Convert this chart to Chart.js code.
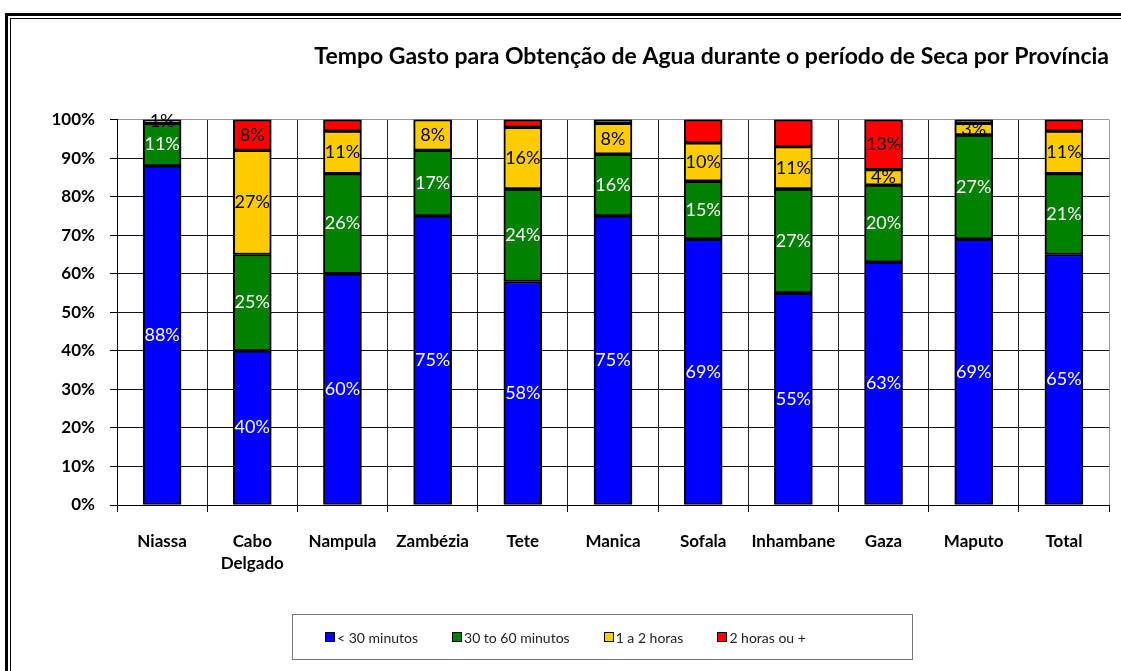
<!DOCTYPE html>
<html lang="pt">
<head>
    <meta charset="UTF-8">
    <title>Tempo Gasto para Obtenção de Agua</title>
    <style>
        body {
            margin: 0;
            background: #fff;
            font-family: Lato, "Noto Sans", sans-serif;
        }

        #wrap {
            position: relative;
            width: 1121px;
            height: 671px;
            overflow: hidden;
        }

        #frameOuter {
            position: absolute;
            left: 5px;
            top: 13px;
            width: 1200px;
            height: 800px;
            border-left: 3px solid #000;
            border-top: 3px solid #000;
        }

        #frameInner {
            position: absolute;
            left: 10px;
            top: 18px;
            width: 1200px;
            height: 800px;
            border-left: 1px solid #000;
            border-top: 1px solid #000;
        }

        canvas {
            position: absolute;
            left: 0;
            top: 0;
        }

        #legend {
            position: absolute;
            left: 292px;
            top: 614px;
            width: 621px;
            height: 46px;
            box-sizing: border-box;
            border: 1px solid #777;
            display: flex;
            align-items: center;
            padding-left: 32px;
            gap: 34px;
            font-size: 14px;
            color: #222;
        }

        .item {
            display: flex;
            align-items: center;
        }

        .box {
            width: 8px;
            height: 8px;
            border: 1px solid #000;
            margin-right: 2px;
        }
    </style>
</head>
<body>
<div id="wrap">
    <div id="frameOuter"></div>
    <div id="frameInner"></div>
    <canvas id="chartCanvas" width="1121" height="671"></canvas>
    <div id="legend"></div>
</div>
<script src="https://cdn.jsdelivr.net/npm/chart.js"></script>
<script>
    const provincias = ["Niassa", ["Cabo", "Delgado"], "Nampula", "Zambézia", "Tete", "Manica",
        "Sofala", "Inhambane", "Gaza", "Maputo", "Total"];
    const series = ["< 30 minutos", "30 to 60 minutos", "1 a 2 horas", "2 horas ou +"];
    const menos30 = [88, 40, 60, 75, 58, 75, 69, 55, 63, 69, 65];
    const de30a60 = [11, 25, 26, 17, 24, 16, 15, 27, 20, 27, 21];
    const de1a2 = [1, 27, 11, 8, 16, 8, 10, 11, 4, 3, 11];
    const mais2 = [0, 8, 3, 0, 2, 1, 6, 7, 13, 1, 3];
    const yTicks = [0, 10, 20, 30, 40, 50, 60, 70, 80, 90, 100];

    const cores = ["#0000ff", "#008000", "#ffcc00", "#ff0000"];
    const corTexto = ["#fff", "#fff", "#000", "#000"];
    // small red slices carry no label in the original
    const minRotulo = [1, 1, 1, 8];

    // legend
    const legendDiv = document.getElementById("legend");
    series.forEach((nome, i) => {
        const item = document.createElement("div");
        item.className = "item";
        item.innerHTML = `<span class="box" style="background:${cores[i]}"></span><span>${nome}</span>`;
        legendDiv.appendChild(item);
    });

    const rotulos = {
        id: "rotulos",
        afterDatasetsDraw(chart) {
            const ctx = chart.ctx;
            ctx.save();
            ctx.font = "18px Lato, 'Noto Sans', sans-serif";
            ctx.textAlign = "center";
            ctx.textBaseline = "middle";
            chart.data.datasets.forEach((ds, di) => {
                const meta = chart.getDatasetMeta(di);
                meta.data.forEach((bar, i) => {
                    const v = ds.data[i];
                    if (v < minRotulo[di]) return;
                    const p = bar.getProps(["x", "y", "base"], true);
                    ctx.fillStyle = corTexto[di];
                    ctx.fillText(Math.round(v) + "%", p.x, (p.y + p.base) / 2);
                });
            });
            ctx.restore();
        }
    };

    const dados = [menos30, de30a60, de1a2, mais2];

    new Chart(document.getElementById("chartCanvas"), {
        type: "bar",
        data: {
            labels: provincias,
            datasets: dados.map((d, i) => ({
                label: series[i],
                data: d,
                backgroundColor: cores[i],
                borderColor: "#000",
                borderWidth: 2,
                borderSkipped: false,
                barThickness: 38
            }))
        },
        options: {
            responsive: false,
            animation: false,
            layout: { padding: { left: 0, right: 12, top: 0, bottom: 0 } },
            plugins: {
                legend: { display: false },
                tooltip: { enabled: false },
                title: {
                    display: true,
                    text: "Tempo Gasto para Obtenção de Agua durante o período de Seca por Província",
                    align: "end",
                    color: "#000",
                    font: { family: "Lato, 'Noto Sans', sans-serif", size: 23, weight: "bold" },
                    padding: { top: 43, bottom: 49 }
                }
            },
            scales: {
                x: {
                    stacked: true,
                    afterFit: s => { s.height = 166; },
                    border: { color: "#000", width: 1 },
                    grid: {
                        offset: true,
                        color: c => c.index === undefined ? "#999" : "#222",
                        tickColor: "#000",
                        tickLength: 7
                    },
                    ticks: {
                        color: "#000",
                        padding: 18,
                        maxRotation: 0,
                        font: { family: "Lato, 'Noto Sans', sans-serif", size: 17, weight: "bold", lineHeight: 1.3 }
                    }
                },
                y: {
                    stacked: true,
                    min: 0,
                    max: 100,
                    afterFit: s => { s.width = 117; },
                    afterBuildTicks: s => { s.ticks = yTicks.map(v => ({ value: v })); },
                    border: { color: "#000", width: 1 },
                    grid: {
                        color: c => c.tick && c.tick.value === 100 ? "#999" : "#111",
                        tickColor: "#000",
                        tickLength: 7
                    },
                    ticks: {
                        color: "#000",
                        padding: 15,
                        callback: v => v + "%",
                        font: { family: "Lato, 'Noto Sans', sans-serif", size: 17, weight: "bold" }
                    }
                }
            }
        },
        plugins: [rotulos]
    });
</script>
</body>
</html>
